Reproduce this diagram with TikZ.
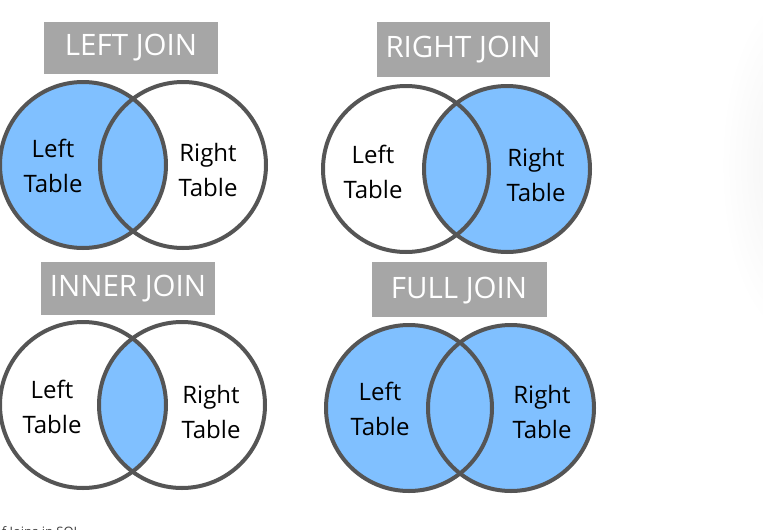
\documentclass[tikz,border=0pt]{standalone}
\usepackage{fontspec}
\setmainfont{Open Sans}
\begin{document}
\begin{tikzpicture}[x=1pt,y=-1pt,
  every node/.style={inner sep=0pt, outer sep=0pt},
  setfill/.style={fill=setblue},
  setring/.style={draw=ringgray, line width=4pt},
  titletext/.style={text=white, font=\fontsize{29.5}{31}\selectfont},
  setlabel/.style={font=\fontsize{24}{35}\selectfont, text=black, align=center},
  note/.style={font=\fontsize{13}{15}\selectfont, text=black!75, anchor=base west}]
\definecolor{setblue}{HTML}{80C0FF}
\definecolor{ringgray}{HTML}{555555}
\definecolor{titlegray}{HTML}{A6A6A6}
\def\rr{83}

\useasboundingbox (0,0) rectangle (763,530);
\clip (0,0) rectangle (763,530);

% soft shadow along the right edge
\shade[inner color=black!5, outer color=white, draw=none]
  (795,165) ellipse[x radius=75, y radius=175];

% ---------- LEFT JOIN ----------
\fill[titlegray] (44,22) rectangle (218,74);
\node[titletext] (ljtitle) at (131,48) {LEFT JOIN};
\coordinate (ljA) at (83,165);
\coordinate (ljB) at (183,165);
\fill[setfill] (ljA) circle[radius=\rr];
\draw[setring] (ljA) circle[radius=\rr];
\draw[setring] (ljB) circle[radius=\rr];
\node[setlabel] (ljleft) at (53,166) {Left\\Table};
\node[setlabel] (ljright) at (208,170) {Right\\Table};

% ---------- RIGHT JOIN ----------
\fill[titlegray] (377,22) rectangle (550,77);
\node[titletext] (rjtitle) at (463,50) {RIGHT JOIN};
\coordinate (rjA) at (406,169);
\coordinate (rjB) at (507,169);
\fill[setfill] (rjB) circle[radius=\rr];
\draw[setring] (rjA) circle[radius=\rr];
\draw[setring] (rjB) circle[radius=\rr];
\node[setlabel] (rjleft) at (373,172) {Left\\Table};
\node[setlabel] (rjright) at (536,175) {Right\\Table};

% ---------- INNER JOIN ----------
\fill[titlegray] (41,262) rectangle (215,315);
\node[titletext] (ijtitle) at (128,289) {INNER JOIN};
\coordinate (ijA) at (83,405);
\coordinate (ijB) at (182,405);
\begin{scope}
  \clip (ijA) circle[radius=\rr];
  \fill[setfill] (ijB) circle[radius=\rr];
\end{scope}
\draw[setring] (ijA) circle[radius=\rr];
\draw[setring] (ijB) circle[radius=\rr];
\node[setlabel] (ijleft) at (52,407) {Left\\Table};
\node[setlabel] (ijright) at (211,412) {Right\\Table};

% ---------- FULL JOIN ----------
\fill[titlegray] (372,262) rectangle (547,317);
\node[titletext] (fjtitle) at (459,291) {FULL JOIN};
\coordinate (fjA) at (409,408);
\coordinate (fjB) at (511,408);
\fill[setfill] (fjA) circle[radius=\rr];
\fill[setfill] (fjB) circle[radius=\rr];
\draw[setring] (fjA) circle[radius=\rr];
\draw[setring] (fjB) circle[radius=\rr];
\node[setlabel] (fjleft) at (380,409) {Left\\Table};
\node[setlabel] (fjright) at (542,412) {Right\\Table};

% caption running off the lower edge
\node[note] (caption) at (-6,536) {of Joins in SQL};
\end{tikzpicture}
\end{document}
